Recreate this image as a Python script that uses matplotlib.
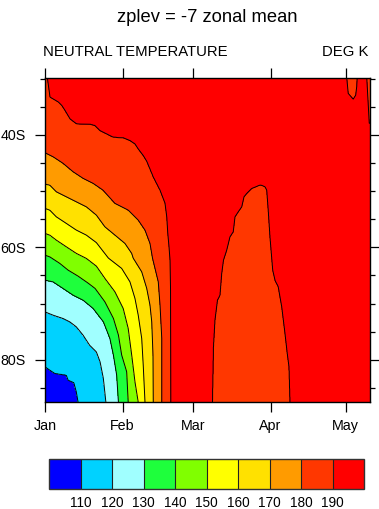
import numpy as np
import matplotlib
matplotlib.use('Agg')
import matplotlib.pyplot as plt
from matplotlib.ticker import MultipleLocator

plt.rcParams['font.family'] = ['Liberation Sans', 'DejaVu Sans']

# ---------------- texts / categories ----------------
title = 'zplev = -7 zonal mean'
left_label = 'NEUTRAL TEMPERATURE'
right_label = 'DEG K'
levels = [110, 120, 130, 140, 150, 160, 170, 180, 190]
fill_colors = ['#0000ff', '#00d2ff', '#a0ffff', '#1eff3c', '#80ff00',
               '#ffff00', '#ffe100', '#ff9b00', '#ff3700', '#ff0000']
month_days = [0, 31, 59, 90, 120]
month_labels = ['Jan', 'Feb', 'Mar', 'Apr', 'May']
lat_ticks = [-40, -60, -80]
lat_labels = ['40S', '60S', '80S']
day_max = 129.7
lat_min, lat_max = -87.5, -29.85

# ---------------- data ----------------
# temperature on Jan 1 (left edge) versus latitude
jan1_lat = [-87.5, -81.24, -71.47, -65.83, -61.39, -57.53, -53.08, -48.76, -43.2, -29.8]
jan1_temp = [106, 110, 120, 130, 140, 150, 160, 170, 180, 188]

# isotherm positions (latitude, day of year - 1)
iso110_lat = [-81.24, -81.83, -82.42, -82.72, -83.6, -84.05, -85.69, -87.5]
iso110_day = [0, 1.9, 3.9, 8.5, 9.2, 11.5, 12.5, 13.2]
iso120_lat = [-71.47, -72.05, -72.64, -73.24, -74.13, -75.61, -77.39, -78.58, -80.36, -83.31, -87.5]
iso120_day = [0, 3.2, 7.2, 9.9, 12.5, 15.2, 17.8, 20.5, 22.0, 23.3, 24.3]
iso130_lat = [-65.83, -66.13, -67.31, -68.5, -69.39, -70.86, -73.24, -76.2, -79.16, -82.72, -87.5]
iso130_day = [0, 3.2, 7.2, 11.2, 15.2, 19.2, 23.3, 25.9, 27.3, 28.6, 29.3]
iso140_lat = [-61.39, -61.69, -62.86, -64.05, -65.12, -66.36, -67.31, -69.69, -72.64, -75.61, -79.16, -82.13, -87.5]
iso140_day = [0, 1.9, 5.9, 9.2, 13.2, 17.2, 20.0, 23.9, 27.3, 29.3, 30.6, 32.6, 33.2]
iso150_lat = [-57.53, -57.83, -58.72, -59.91, -61.08, -61.97, -63.34, -65.53, -67.91, -70.86, -74.42, -79.16, -83.91, -87.5]
iso150_day = [0, 1.9, 4.5, 8.5, 12.5, 16.5, 20.5, 23.9, 27.9, 31.2, 33.2, 34.6, 35.9, 37.2]
iso160_lat = [-53.08, -53.39, -54.58, -55.75, -56.94, -57.83, -59.16, -61.92, -63.75, -66.13, -69.08, -72.05, -76.2, -80.94, -87.5]
iso160_day = [0, 1.9, 4.5, 8.5, 12.5, 16.5, 20.5, 25.3, 30.6, 33.9, 35.9, 37.2, 38.6, 39.2, 39.9]
iso170_lat = [-48.76, -48.94, -50.13, -51.02, -51.91, -52.8, -54.28, -56.36, -57.83, -59.31, -61.08, -61.92, -64.36, -67.31, -70.28, -73.24, -79.16, -87.5]
iso170_day = [0, 1.9, 4.5, 8.5, 12.5, 16.5, 20.5, 23.9, 27.9, 31.9, 34.6, 35.2, 38.6, 40.6, 41.9, 42.6, 43.1, 43.2]
iso180_lat = [-43.2, -43.91, -45.08, -46.58, -47.75, -48.64, -49.83, -52.2, -53.39, -55.17, -56.94, -59.31, -61.92, -66.13, -70.28, -76.2, -87.5]
iso180_day = [0, 3.2, 7.2, 11.2, 15.2, 19.2, 23.1, 27.9, 33.2, 37.2, 39.9, 41.9, 42.9, 45.2, 45.9, 46.6, 46.6]
iso190_lat = [-29.74, -33.30, -34.15, -34.77, -35.66, -37.16, -38.04, -38.10, -38.33, -39.22, -39.82, -40.41, -40.50,
              -41.00, -41.60, -42.49, -43.66, -44.68, -47.47, -49.83, -52.14, -54.58, -57.48, -59.96, -62.28, -67.61, -87.5]
iso190_day = [0.9, 2.0, 5.3, 6.7, 8.0, 10.0, 12.6, 18.0, 19.9, 21.9, 24.6, 27.2, 31.2,
              33.9, 35.9, 37.2, 39.2, 40.6, 43.2, 45.9, 47.9, 48.6, 49.0, 49.5, 49.9, 50.1, 50.2]

# Mar-Apr cooler tongue (below 190 K): west and east edges
tongue_w_lat = [-48.9, -49.53, -49.83, -50.42, -51.02, -52.8, -53.69, -54.58, -57.24, -58.13, -60.5, -62.28, -64.64, -68.5, -69.39, -72.94, -77.69, -87.5]
tongue_w_day = [86.0, 82.5, 81.8, 80.5, 79.4, 78.5, 77.1, 75.8, 75.1, 73.8, 72.5, 71.2, 70.5, 69.8, 68.8, 67.8, 67.2, 66.8]
tongue_e_lat = [-48.9, -49.24, -49.83, -53.39, -58.13, -64.05, -65.83, -67.02, -70.58, -75.31, -78.86, -81.24, -87.5]
tongue_e_day = [86.0, 87.8, 88.5, 89.1, 89.8, 90.9, 91.8, 93.1, 94.5, 95.8, 96.7, 97.4, 97.8]

# small May pocket near the top and the sliver at the right edge
pocket_w_lat = [-29.8, -32.64, -33.35, -33.65]
pocket_w_day = [120.4, 121.0, 122.4, 123.0]
pocket_e_lat = [-29.8, -31.47, -32.94, -33.65]
pocket_e_day = [124.6, 124.4, 124.0, 123.0]
edge_lat = [-29.8, -37.97]
edge_day = [128.4, 129.4]

# ---------------- build the field ----------------
isotherms = {110: (iso110_lat, iso110_day), 120: (iso120_lat, iso120_day),
             130: (iso130_lat, iso130_day), 140: (iso140_lat, iso140_day),
             150: (iso150_lat, iso150_day), 160: (iso160_lat, iso160_day),
             170: (iso170_lat, iso170_day), 180: (iso180_lat, iso180_day),
             190: (iso190_lat, iso190_day)}


def cross(L, la, da):
    return float(np.interp(-L, -np.asarray(la, float), np.asarray(da, float)))


lat_grid = np.linspace(lat_min, lat_max, 600)
day_grid = np.linspace(0, day_max, 1300)
field = np.empty((lat_grid.size, day_grid.size))
for i, L in enumerate(lat_grid):
    kx = [0.0]
    ky = [float(np.interp(L, jan1_lat, jan1_temp))]
    for lev in levels:
        la, da = isotherms[lev]
        if L < la[0]:
            kx.append(cross(L, la, da))
            ky.append(lev)
    kx.append(kx[-1] + 2.0)
    ky.append(194)
    if L < -48.92:
        bw = cross(L, tongue_w_lat, tongue_w_day)
        be = cross(L, tongue_e_lat, tongue_e_day)
        kx += [bw - 1, bw, 0.5 * (bw + be), be, be + 1]
        ky += [194, 190, 186, 190, 194]
    if L > -33.62:
        pw = cross(L, pocket_w_lat, pocket_w_day)
        pe = cross(L, pocket_e_lat, pocket_e_day)
        kx += [pw - 1, pw, 0.5 * (pw + pe), pe, pe + 1]
        ky += [194, 190, 186, 190, 194]
    if L > -37.97:
        ce = cross(L, edge_lat, edge_day)
        kx += [ce - 1, ce, ce + 1.5]
        ky += [194, 190, 186]
    else:
        kx.append(day_max + 1)
        ky.append(194)
    field[i] = np.interp(day_grid, kx, ky)

# ---------------- figure ----------------
W, H = 379, 509
fig = plt.figure(figsize=(W / 100, H / 100), dpi=100)
ax = fig.add_axes([45 / W, 1 - 402 / H, 325 / W, 324.3 / H])

bounds = [100] + levels + [200]
cf = ax.contourf(day_grid, lat_grid, field, levels=bounds, colors=fill_colors)
ax.contour(day_grid, lat_grid, field, levels=levels, colors='k', linewidths=0.7)

ax.set_xlim(0, day_max)
ax.set_ylim(lat_min, lat_max)
ax.set_xticks(month_days)
ax.set_xticklabels(month_labels)
ax.set_yticks(lat_ticks)
ax.set_yticklabels(lat_labels)
ax.yaxis.set_minor_locator(MultipleLocator(5))
ax.tick_params(which='both', direction='out', top=True, right=True, width=0.9, colors='k')
ax.tick_params(which='major', length=7)
ax.tick_params(which='minor', length=3.5)
ax.tick_params(axis='y', which='major', pad=7, labelsize=10.3)
ax.tick_params(axis='x', which='major', pad=5.5, labelsize=10.3)
for s in ax.spines.values():
    s.set_linewidth(1.0)

fig.text(207.5 / W, 1 - 22.5 / H, title, ha='center', va='baseline', fontsize=13.2)
fig.text(43.3 / W, 1 - 56 / H, left_label, ha='left', va='baseline', fontsize=10.7)
fig.text(368.3 / W, 1 - 56 / H, right_label, ha='right', va='baseline', fontsize=10.7)

cax = fig.add_axes([49.3 / W, 20.3 / H, 314.7 / W, 29.4 / H])
cb = fig.colorbar(cf, cax=cax, orientation='horizontal', ticks=levels, drawedges=True)
cb.set_ticklabels([str(v) for v in levels])
cb.outline.set_linewidth(1.0)
cb.outline.set_edgecolor('#333333')
cb.dividers.set_linewidth(0.8)
cb.dividers.set_color('#222222')
cax.tick_params(length=0, pad=5, labelsize=9.8)

fig.savefig('out.png', dpi=100)
